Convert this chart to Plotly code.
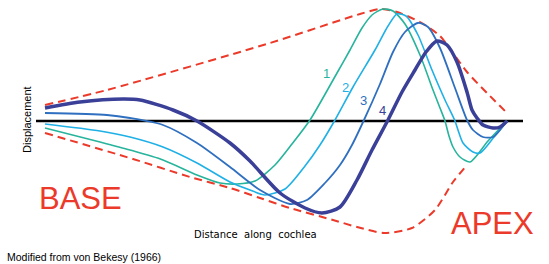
import plotly.graph_objects as go

# distance along cochlea (arbitrary units) and displacement
x1 = [45,100,130,163,197,220,237,255,275,292,310,337,350,362,372,383,393,405,420,433,440,445,449,453,460,470,488,507]
y1 = [-7,-21,-29,-39,-54,-62,-63,-60,-44,-23,1,48,71,93,106,112,110,97,66,31,13,0,-15,-26,-36,-41,-20,0]

x2 = [45,100,130,163,197,230,250,265,285,305,320,335,353,375,388,397,406,418,432,445,455,458,463,473,480,494,507]
y2 = [-3,-10,-16,-26,-42,-61,-69,-74,-68,-45,-24,1,34,71,95,107,105,86,51,21,0,-9,-22,-31,-32,-16,0]

x3 = [45,107,130,163,197,230,260,290,307,325,340,352,364,380,393,405,418,428,440,455,467,473,483,493,507]
y3 = [8,6,3,-4,-22,-46,-69,-83,-79,-62,-44,-24,1,37,69,89,98,94,73,33,1,-9,-16,-16,0]

x4 = [45,80,123,140,173,197,230,250,280,305,322,340,357,372,388,402,415,426,437,447,457,467,472,477,483,493,500,507]
y4 = [13,19,22,21,11,0,-22,-40,-72,-87,-92,-86,-59,-29,1,29,51,69,80,76,59,29,11,3,-4,-7,-6,0]

env_up_x = [45,107,270,360,380,397,420,440,453,467,487,507]
env_up_y = [16,31,78,107,112,109,99,85,68,49,28,8]
env_lo_x = [45,133,190,230,260,290,333,357,384,412,435,453,467]
env_lo_y = [-12,-38,-56,-67,-77,-87,-99,-106,-112,-107,-89,-61,-44]

axis_x = [36, 523]
axis_y = [0, 0]

labels = ["1", "2", "3", "4"]
label_x = [326, 345, 363, 382]
label_y = [48, 34, 21, 11]

colors = ["#27b49c", "#1fb0e6", "#2f6fc0", "#3a3f98"]
widths = [1.6, 1.6, 1.8, 3.5]
red = "#ec3a2a"

fig = go.Figure()
for ex, ey in [(env_up_x, env_up_y), (env_lo_x, env_lo_y)]:
    fig.add_trace(go.Scatter(x=ex, y=ey, mode="lines",
                             line=dict(color=red, width=2, dash="8px,5px", shape="spline", smoothing=0.7),
                             hoverinfo="skip"))
fig.add_trace(go.Scatter(x=axis_x, y=axis_y, mode="lines", line=dict(color="black", width=2.5), hoverinfo="skip"))
for xs, ys, c, w in zip([x1, x2, x3, x4], [y1, y2, y3, y4], colors, widths):
    fig.add_trace(go.Scatter(x=xs, y=ys, mode="lines",
                             line=dict(color=c, width=w, shape="spline", smoothing=0.7)))

annotations = []
for t, lx, ly, c in zip(labels, label_x, label_y, colors):
    annotations.append(dict(x=lx, y=ly, text=t, showarrow=False,
                            font=dict(family="Liberation Sans, Arial", size=13, color=c)))
annotations += [
    dict(x=80, y=-77, text="BASE", showarrow=False, font=dict(family="Liberation Sans, Arial", size=31, color=red)),
    dict(x=492, y=-102, text="APEX", showarrow=False, font=dict(family="Liberation Sans, Arial", size=31, color=red)),
    dict(x=27, y=1, text="Displacement", textangle=-90, showarrow=False,
         font=dict(family="Liberation Sans, Arial", size=11, color="black")),
    dict(x=255, y=-113, text="Distance  along  cochlea", showarrow=False,
         font=dict(family="DejaVu Sans", size=10, color="black")),
    dict(x=5, y=-136, text="Modified from von Bekesy (1966)", showarrow=False, xanchor="left",
         font=dict(family="Liberation Sans, Arial", size=10.5, color="black")),
]

fig.update_layout(
    width=549, height=264, margin=dict(l=0, r=0, t=0, b=0),
    paper_bgcolor="white", plot_bgcolor="white", showlegend=False,
    xaxis=dict(range=[0, 549], visible=False, fixedrange=True),
    yaxis=dict(range=[-143, 121], visible=False, fixedrange=True),
    annotations=annotations,
)
fig.write_html("out.html", config={"displayModeBar": False},
               post_script="document.body.style.margin='0';document.body.style.overflow='hidden';")
